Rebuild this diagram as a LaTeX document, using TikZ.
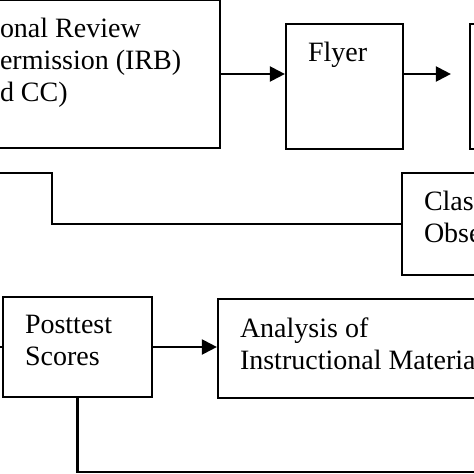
\documentclass[tikz,border=0pt]{standalone}
\usepackage{fontspec}
\setmainfont{Liberation Serif}
\usetikzlibrary{arrows.meta}

\begin{document}
\begin{tikzpicture}[x=1pt, y=-1pt, line width=2.2pt,
    stage/.style={draw, rectangle, inner sep=0pt},
    tag/.style={anchor=north west, align=left, inner xsep=22pt, inner ysep=18.5pt,
        font=\fontsize{28}{32}\selectfont},
    flow/.style={-{Triangle[length=15pt, width=15pt]}}]
    \useasboundingbox (0,0) rectangle (474,474);
    \clip (0,0) rectangle (474,474);

    % draw the boxes (most of them run over the edge of the picture)
    \node[stage, minimum width=242, minimum height=148] (irb) at (99,74) {};
    \node[stage, minimum width=117, minimum height=125] (flyer) at (344.5,86.5) {};
    \node[stage, minimum width=140, minimum height=125] (nextbox) at (540,86.5) {};
    \node[stage, minimum width=150, minimum height=102] (obs) at (477,224) {};
    \node[stage, minimum width=149, minimum height=100] (post) at (77.5,347) {};
    \node[stage, minimum width=300, minimum height=99] (analysis) at (368,348.5) {};

    % the texts, in the upper left corner of each box
    \node[tag] (irbtext) at (irb.north west) {onal Review\\ermission (IRB)\\d CC)};
    \node[tag] (flyertext) at (flyer.north west) {Flyer};
    \node[tag] (obstext) at (obs.north west) {Clas\\Obse};
    \node[tag] (posttext) at (post.north west) {Posttest\\Scores};
    \node[tag] (analysistext) at (analysis.north west) {Analysis of\\Instructional Materia};

    % loose ends of the lines that come from outside the picture
    \coordinate (leftin) at (-20,173);
    \coordinate (bend) at (52,224);
    \coordinate (postin) at (-20,347);
    \coordinate (rightout) at (500,472);

    % draw the arrows
    \draw[flow] (irb.east) -- (irb.east -| flyer.west);
    \draw[flow, shorten >=18pt] (flyer.east |- irb.east) -- (nextbox.west |- irb.east);
    \draw (leftin) -| (bend) -- (obs.west);
    \draw (postin) -- (post.west);
    \draw[flow] (post.east) -- (post.east -| analysis.west);
    \draw (post.south) |- (rightout);
\end{tikzpicture}
\end{document}
